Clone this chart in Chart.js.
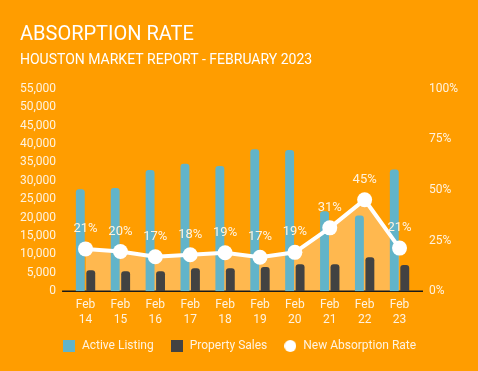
<!DOCTYPE html>
<html>
<head>
<meta charset="utf-8">
<script src="https://cdn.jsdelivr.net/npm/chart.js@4"></script>
<style>
  html, body { margin: 0; padding: 0; background: #FF9D00; }
  #wrap { width: 478px; height: 371px; }
</style>
</head>
<body>
<div id="wrap"><canvas id="absorptionChart"></canvas></div>
<script>
const labels = [['Feb', '14'], ['Feb', '15'], ['Feb', '16'], ['Feb', '17'], ['Feb', '18'],
                ['Feb', '19'], ['Feb', '20'], ['Feb', '21'], ['Feb', '22'], ['Feb', '23']];
const activeListing = [27700, 28050, 32950, 34600, 34000, 38600, 38400, 21700, 20600, 33100];
const propertySales = [5700, 5450, 5450, 6250, 6250, 6550, 7350, 7350, 9250, 7100];
const absorptionRate = [20.9, 19.6, 17.0, 18.0, 19.0, 16.8, 19.2, 31.3, 45.2, 21.3];

const tickColor = '#FFF3E0';

function swatch(color, round) {
  const c = document.createElement('canvas');
  c.width = 12;
  c.height = 12;
  const g = c.getContext('2d');
  g.fillStyle = color;
  if (round) {
    g.beginPath();
    g.arc(6, 6, 6, 0, Math.PI * 2);
    g.fill();
  } else {
    g.fillRect(0, 0, 12, 12);
  }
  return c;
}
const legendIcons = [swatch('#62B4C9'), swatch('#424242'), swatch('#FFFFFF', true)];

// percent labels above the rate points
const rateLabels = {
  id: 'rateLabels',
  afterDatasetsDraw(chart) {
    const meta = chart.getDatasetMeta(2);
    const ctx = chart.ctx;
    ctx.save();
    ctx.font = '13px Roboto';
    ctx.fillStyle = tickColor;
    ctx.textAlign = 'center';
    ctx.textBaseline = 'alphabetic';
    meta.data.forEach((pt, i) => {
      ctx.fillText(Math.round(absorptionRate[i]) + '%', pt.x, pt.y - 17);
    });
    ctx.restore();
  }
};

// dark baseline, a bit wider than the plot area
const axisLine = {
  id: 'axisLine',
  beforeDatasetsDraw(chart) {
    const { ctx, chartArea: a } = chart;
    ctx.save();
    ctx.strokeStyle = '#1a1a1a';
    ctx.lineWidth = 1.5;
    ctx.beginPath();
    ctx.moveTo(a.left - 6, a.bottom);
    ctx.lineTo(a.right + 6, a.bottom);
    ctx.stroke();
    ctx.restore();
  }
};

Chart.defaults.font.family = 'Roboto';

const ctx = document.getElementById('absorptionChart');

new Chart(ctx, {
  type: 'bar',
  data: {
    labels: labels,
    datasets: [{
      label: 'Active Listing',
      data: activeListing,
      backgroundColor: '#62B4C9',
      borderRadius: 3,
      borderSkipped: 'bottom',
      categoryPercentage: 0.6,
      barPercentage: 0.85,
      yAxisID: 'y',
      order: 1
    }, {
      label: 'Property Sales',
      data: propertySales,
      backgroundColor: '#424242',
      borderRadius: 3,
      borderSkipped: 'bottom',
      categoryPercentage: 0.6,
      barPercentage: 0.85,
      yAxisID: 'y',
      order: 2
    }, {
      type: 'line',
      label: 'New Absorption Rate',
      data: absorptionRate,
      borderColor: '#FFFFFF',
      borderWidth: 4,
      backgroundColor: '#FFB84F',
      fill: 'origin',
      pointRadius: 7.5,
      pointHoverRadius: 7.5,
      pointBackgroundColor: '#FFFFFF',
      pointBorderWidth: 0,
      tension: 0,
      yAxisID: 'y1',
      order: 0
    }]
  },
  options: {
    responsive: true,
    maintainAspectRatio: false,
    animation: false,
    layout: { padding: { top: 23, left: 20, right: 20, bottom: 9 } },
    scales: {
      x: {
        grid: { display: false, drawTicks: false },
        border: { display: false },
        ticks: { color: tickColor, font: { size: 12 }, padding: 7, maxRotation: 0 },
        afterFit: s => { s.height -= 10; }
      },
      y: {
        position: 'left',
        min: 0,
        max: 55000,
        grid: { display: false, drawTicks: false },
        border: { display: false },
        ticks: {
          stepSize: 5000,
          color: tickColor,
          font: { size: 12 },
          padding: 12,
          callback: v => v.toLocaleString('en-US')
        },
        afterFit: s => { s.width -= 12; }
      },
      y1: {
        position: 'right',
        min: 0,
        max: 100,
        grid: { display: false, drawTicks: false },
        border: { display: false },
        ticks: {
          stepSize: 25,
          color: tickColor,
          font: { size: 12 },
          padding: 12,
          callback: v => v + '%'
        },
        afterFit: s => { s.width -= 12; }
      }
    },
    plugins: {
      filler: { drawTime: 'beforeDatasetsDraw' },
      tooltip: { enabled: false },
      title: {
        display: true,
        text: 'ABSORPTION RATE',
        align: 'start',
        color: '#FFFFFF',
        font: { size: 20, weight: 'normal' },
        padding: { top: 0, bottom: 5 }
      },
      subtitle: {
        display: true,
        text: 'HOUSTON MARKET REPORT - FEBRUARY 2023',
        align: 'start',
        color: '#FFFFFF',
        font: { size: 14, weight: 'normal' },
        padding: { top: 0, bottom: 20 }
      },
      legend: {
        position: 'bottom',
        labels: {
          color: tickColor,
          font: { size: 12 },
          usePointStyle: true,
          pointStyleWidth: 14,
          boxWidth: 12,
          padding: 16,
          sort: (a, b) => a.datasetIndex - b.datasetIndex,
          generateLabels(chart) {
            const items = Chart.defaults.plugins.legend.labels.generateLabels(chart);
            items.forEach(it => { it.pointStyle = legendIcons[it.datasetIndex]; });
            return items;
          }
        }
      }
    }
  },
  plugins: [axisLine, rateLabels]
});
</script>
</body>
</html>
